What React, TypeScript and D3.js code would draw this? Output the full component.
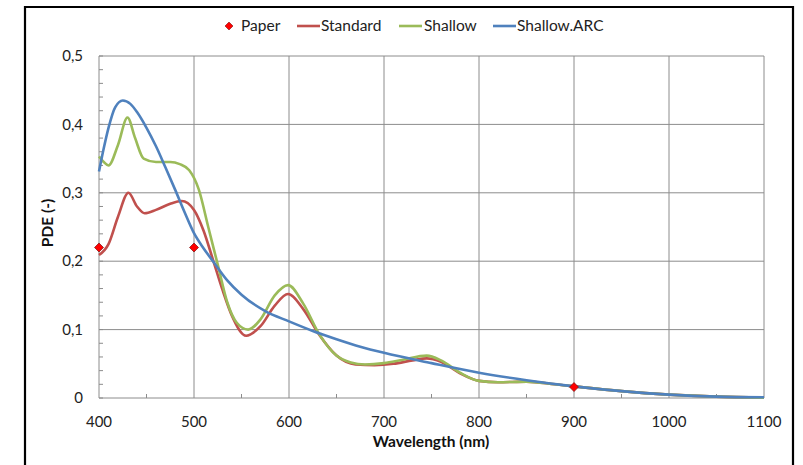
import React from "react";
import * as d3 from "d3";

const paperNm = [400, 500, 900];
const paperPde = [0.22, 0.22, 0.016];

const standardNm = [400, 410, 420, 431, 440, 448, 460, 475, 487, 500, 510, 520, 530, 540, 555, 570, 585, 599, 615, 632, 650, 670, 690, 710, 730, 745, 760, 780, 800, 820, 850, 880, 900, 950, 1000, 1050, 1100];
const standardPde = [0.209, 0.225, 0.265, 0.3, 0.28, 0.27, 0.275, 0.284, 0.288, 0.275, 0.245, 0.202, 0.158, 0.12, 0.091, 0.105, 0.135, 0.152, 0.13, 0.092, 0.062, 0.049, 0.048, 0.05, 0.055, 0.058, 0.053, 0.036, 0.025, 0.023, 0.024, 0.02, 0.017, 0.01, 0.005, 0.002, 0.0005];

const shallowNm = [400, 405, 410, 420, 430, 438, 447, 460, 475, 485, 495, 505, 515, 525, 535, 545, 557, 570, 585, 599, 615, 632, 650, 665, 680, 700, 720, 745, 760, 780, 800, 820, 850, 880, 900, 950, 1000, 1050, 1100];
const shallowPde = [0.353, 0.345, 0.34, 0.37, 0.41, 0.38, 0.35, 0.345, 0.345, 0.342, 0.333, 0.305, 0.25, 0.195, 0.14, 0.11, 0.1, 0.115, 0.15, 0.165, 0.138, 0.093, 0.062, 0.052, 0.049, 0.051, 0.056, 0.062, 0.055, 0.037, 0.025, 0.023, 0.024, 0.02, 0.017, 0.01, 0.005, 0.002, 0.0005];

const arcNm = [400, 405, 410, 417, 425, 433, 440, 450, 460, 470, 480, 490, 500, 510, 520, 535, 550, 575, 600, 625, 650, 675, 700, 750, 800, 850, 900, 950, 1000, 1050, 1100];
const arcPde = [0.331, 0.365, 0.395, 0.425, 0.435, 0.43, 0.418, 0.395, 0.368, 0.337, 0.305, 0.272, 0.241, 0.219, 0.2, 0.172, 0.151, 0.127, 0.112, 0.098, 0.086, 0.075, 0.066, 0.051, 0.037, 0.026, 0.017, 0.01, 0.005, 0.002, 0.001];

const xTicks = [400, 500, 600, 700, 800, 900, 1000, 1100];
const yTicks = [0, 0.1, 0.2, 0.3, 0.4, 0.5];
const yTickLabels = ["0", "0,1", "0,2", "0,3", "0,4", "0,5"];

const seriesNames = ["Standard", "Shallow", "Shallow.ARC"];
const seriesColors = ["#C0504D", "#9BBB59", "#4F81BD"];

const W = 803;
const H = 465;
const FONT = "Lato, 'Open Sans', sans-serif";

export default function App() {
  const x = d3.scaleLinear().domain([400, 1100]).range([99, 764]);
  const y = d3.scaleLinear().domain([0, 0.5]).range([398, 56]);

  const line = d3
    .line<[number, number]>()
    .x((d) => x(d[0]))
    .y((d) => y(d[1]))
    .curve(d3.curveMonotoneX);

  const series = [
    standardNm.map((n, i) => [n, standardPde[i]] as [number, number]),
    shallowNm.map((n, i) => [n, shallowPde[i]] as [number, number]),
    arcNm.map((n, i) => [n, arcPde[i]] as [number, number]),
  ];

  const yMinor = d3.range(0, 0.5001, 0.02);
  const xMinor = d3.range(450, 1100, 100);
  const grid = "#8C8C8C";

  const diamond = (cx: number, cy: number, r: number) =>
    `M${cx},${cy - r}L${cx + r},${cy}L${cx},${cy + r}L${cx - r},${cy}Z`;

  const legendItems = [
    { kind: "marker", label: "Paper", mx: 229, tx: 241 },
    { kind: "line", label: seriesNames[0], color: seriesColors[0], lx: 297, tx: 321 },
    { kind: "line", label: seriesNames[1], color: seriesColors[1], lx: 399, tx: 424 },
    { kind: "line", label: seriesNames[2], color: seriesColors[2], lx: 493, tx: 517 },
  ];

  return (
    <svg
      width={W}
      height={H}
      style={{ position: "absolute", left: 0, top: 0, background: "#fff" }}
      fontFamily={FONT}
    >
      <rect x={0} y={0} width={W} height={H} fill="#fff" />
      {/* outer frame */}
      <path d={`M25,${H + 5}V7H793V${H + 5}`} fill="none" stroke="#000" strokeWidth={2.2} />

      {/* grid */}
      {yTicks.map((t) => (
        <line key={"gy" + t} x1={x(400)} x2={x(1100)} y1={y(t)} y2={y(t)} stroke={grid} strokeWidth={1} />
      ))}
      {xTicks.map((t) => (
        <line key={"gx" + t} x1={x(t)} x2={x(t)} y1={y(0)} y2={y(0.5)} stroke={grid} strokeWidth={1} />
      ))}
      {yMinor.map((t) => (
        <line key={"my" + t} x1={x(400)} x2={x(400) + 4} y1={y(t)} y2={y(t)} stroke={grid} strokeWidth={1} />
      ))}
      {xMinor.map((t) => (
        <line key={"mx" + t} x1={x(t)} x2={x(t)} y1={y(0)} y2={y(0) - 4} stroke={grid} strokeWidth={1} />
      ))}

      {/* series */}
      {series.map((s, i) => (
        <path key={"s" + i} d={line(s) || ""} fill="none" stroke={seriesColors[i]} strokeWidth={2.6} strokeLinejoin="round" />
      ))}

      {/* paper markers */}
      {paperNm.map((n, i) => (
        <path key={"p" + i} d={diamond(x(n), y(paperPde[i]), 4.5)} fill="#FF0000" stroke="#7A1010" strokeWidth={0.7} />
      ))}

      {/* y tick labels */}
      {yTicks.map((t, i) => (
        <text key={"yl" + t} x={83} y={y(t)} dy="0.35em" textAnchor="end" fontSize={15} fill="#222">
          {yTickLabels[i]}
        </text>
      ))}
      {/* x tick labels */}
      {xTicks.map((t) => (
        <text key={"xl" + t} x={x(t)} y={422} dy="0.35em" textAnchor="middle" fontSize={15} fill="#222">
          {t}
        </text>
      ))}

      {/* axis titles */}
      <text x={431} y={442} dy="0.35em" textAnchor="middle" fontSize={15.5} fontWeight="bold" fill="#111">
        Wavelength (nm)
      </text>
      <text
        transform={`translate(48,223) rotate(-90)`}
        dy="0.35em"
        textAnchor="middle"
        fontSize={15.5}
        fontWeight="bold"
        fill="#111"
      >
        PDE (-)
      </text>

      {/* legend */}
      {legendItems.map((it) => (
        <g key={"lg" + it.label}>
          {it.kind === "marker" ? (
            <path d={diamond(it.mx as number, 26, 4)} fill="#FF0000" stroke="#7A1010" strokeWidth={0.6} />
          ) : (
            <line x1={it.lx} x2={(it.lx as number) + 23} y1={26} y2={26} stroke={it.color} strokeWidth={2.6} />
          )}
          <text x={it.tx} y={26} dy="0.35em" fontSize={15.5} fill="#222">
            {it.label}
          </text>
        </g>
      ))}
    </svg>
  );
}
